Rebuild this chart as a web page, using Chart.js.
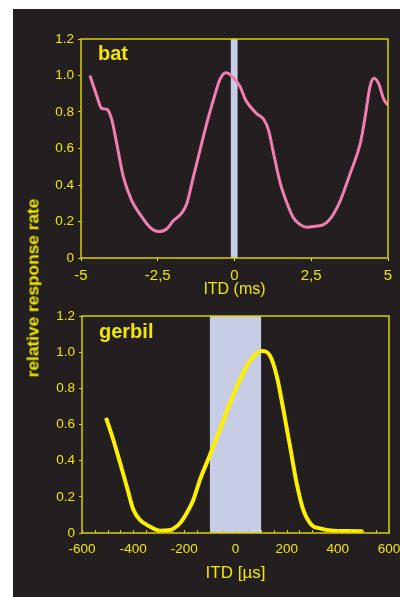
<!DOCTYPE html>
<html>
<head>
<meta charset="utf-8">
<script src="https://cdn.jsdelivr.net/npm/chart.js@4"></script>
<style>
  html,body{margin:0;padding:0;background:#fff;}
  body{width:400px;height:597px;position:relative;overflow:hidden;font-family:"Liberation Sans",Arial,sans-serif;}
  #panel{position:absolute;left:13px;top:9px;width:387px;height:588px;background:#231f20;}
  .box{position:absolute;}
  .lab{position:absolute;color:#f2e600;font-weight:bold;font-size:20px;line-height:20px;white-space:nowrap;}
  #ytitle{position:absolute;color:#f2e600;font-weight:bold;font-size:17.3px;line-height:17px;white-space:nowrap;
          left:33px;top:288px;transform:translate(-50%,-50%) rotate(-90deg);}
</style>
</head>
<body>
<div id="panel"></div>
<div class="box" style="left:13px;top:9px;width:387px;height:291px;"><canvas id="bat"></canvas></div>
<div class="box" style="left:13px;top:300px;width:387px;height:297px;"><canvas id="gerbil"></canvas></div>
<div class="lab" style="left:98px;top:43px;">bat</div>
<div class="lab" style="left:99px;top:321px;">gerbil</div>
<div id="ytitle">relative response rate</div>
<script>
// ---- data ----
const batX = [-4.71,-4.49,-4.33,-4.16,-4.0,-3.84,-3.62,-3.35,-3.08,-2.75,-2.48,-2.21,-1.99,-1.72,-1.55,-1.34,-1.12,-0.9,-0.68,-0.47,-0.28,-0.14,0.02,0.18,0.35,0.51,0.73,0.95,1.11,1.27,1.49,1.71,1.92,2.14,2.36,2.63,2.9,3.07,3.23,3.45,3.77,4.1,4.26,4.42,4.55,4.7,4.86,5.0];
const batY = [1.0,0.89,0.82,0.815,0.76,0.63,0.445,0.316,0.24,0.168,0.145,0.159,0.205,0.246,0.3,0.445,0.593,0.741,0.87,0.98,1.015,1.005,0.975,0.94,0.87,0.83,0.79,0.76,0.70,0.575,0.41,0.30,0.22,0.183,0.168,0.174,0.183,0.205,0.242,0.316,0.464,0.63,0.778,0.945,0.985,0.954,0.87,0.837];
const batBand = [-0.12, 0.1];
const batXTicks = [-5, -2.5, 0, 2.5, 5];

const gerbilX = [-506,-478,-451,-425,-399,-373,-334,-295,-256,-217,-191,-165,-139,-102,-61,-21,18,57,102,135,161,187,213,239,265,298,330,382,448,497];
const gerbilY = [0.637,0.517,0.387,0.257,0.128,0.072,0.035,0.013,0.017,0.054,0.109,0.183,0.294,0.424,0.572,0.72,0.85,0.952,1.007,0.98,0.869,0.683,0.48,0.276,0.128,0.044,0.026,0.013,0.011,0.01];
const gerbilBand = [-100, 100];
const yTicks = [0, 0.2, 0.4, 0.6, 0.8, 1.0, 1.2];

// ---- style ----
const YEL = '#f2e600';
const FRAME = '#dccf00';
const BAND = '#c8cde6';

const bandPlugin = {
  id: 'band',
  beforeDatasetsDraw(chart, args, opts) {
    const {ctx, chartArea: a, scales: {x}} = chart;
    const x0 = x.getPixelForValue(opts.range[0]);
    const x1 = x.getPixelForValue(opts.range[1]);
    ctx.save();
    ctx.fillStyle = BAND;
    ctx.fillRect(x0, a.top, x1 - x0, a.bottom - a.top);
    ctx.restore();
  }
};
const framePlugin = {
  id: 'frame',
  afterDraw(chart, args, opts) {
    const {ctx, chartArea: a, scales: {x}} = chart;
    ctx.save();
    ctx.strokeStyle = FRAME;
    ctx.lineWidth = 1.5;
    ctx.strokeRect(a.left, a.top, a.right - a.left, a.bottom - a.top);
    if (opts.inward) {
      ctx.lineWidth = 1;
      x.ticks.forEach(t => {
        const px = Math.round(x.getPixelForValue(t.value)) + 0.5;
        ctx.beginPath();
        ctx.moveTo(px, a.bottom);
        ctx.lineTo(px, a.bottom - 3);
        ctx.stroke();
      });
    }
    ctx.restore();
  }
};

function yScale(width) {
  return {
    min: 0, max: 1.2,
    afterBuildTicks: s => { s.ticks = yTicks.map(v => ({value: v})); },
    afterFit: s => { s.width = width; s.paddingTop = 0; s.paddingBottom = 0; },
    border: {display: false},
    grid: {drawOnChartArea: false, drawTicks: true, tickLength: 3, color: FRAME, lineWidth: 1},
    ticks: {
      color: YEL, padding: 4,
      font: {family: '"Liberation Sans", Arial, sans-serif', size: 13.5},
      callback: v => v === 0 ? '0' : v.toFixed(1)
    }
  };
}

function makeChart(id, xs, ys, color, lw, cfg) {
  return new Chart(document.getElementById(id), {
    type: 'line',
    data: {
      datasets: [{
        data: xs.map((x, i) => ({x, y: ys[i]})),
        borderColor: color, borderWidth: lw,
        pointRadius: 0, fill: false,
        cubicInterpolationMode: 'monotone'
      }]
    },
    options: {
      responsive: true, maintainAspectRatio: false, animation: false,
      layout: {padding: cfg.padding},
      plugins: {legend: {display: false}, tooltip: {enabled: false},
                band: {range: cfg.band}, frame: {inward: cfg.inward}},
      scales: {
        x: cfg.x,
        y: yScale(cfg.yWidth)
      }
    },
    plugins: [bandPlugin, framePlugin]
  });
}

makeChart('bat', batX, batY, '#f07eae', 3, {
  padding: {top: 30, right: 12, left: 0, bottom: 0},
  band: batBand, inward: false, yWidth: 68,
  x: {
    type: 'linear', min: -5, max: 5,
    afterBuildTicks: s => { s.ticks = batXTicks.map(v => ({value: v})); },
    afterFit: s => { s.height = 42; s.paddingLeft = 0; s.paddingRight = 0; },
    border: {display: false},
    grid: {drawOnChartArea: false, drawTicks: true, tickLength: 3, color: '#e8e090', lineWidth: 1},
    ticks: {
      color: YEL, padding: 6, maxRotation: 0, autoSkip: false,
      font: {family: '"Liberation Sans", Arial, sans-serif', size: 15},
      callback: v => String(v).replace('.', ',')
    },
    title: {display: true, text: 'ITD (ms)', color: YEL, padding: {top: 0, bottom: 1},
            font: {family: '"Liberation Sans", Arial, sans-serif', size: 16}}
  }
});

makeChart('gerbil', gerbilX, gerbilY, '#ffef00', 4, {
  padding: {top: 16, right: 11, left: 0, bottom: 0},
  band: gerbilBand, inward: true, yWidth: 69,
  x: {
    type: 'linear', min: -600, max: 600,
    ticks: {
      stepSize: 50, color: YEL, padding: 8, maxRotation: 0, autoSkip: false,
      font: {family: '"Liberation Sans", Arial, sans-serif', size: 13.5},
      callback: v => (v % 200 === 0) ? String(v) : ''
    },
    afterFit: s => { s.height = 64; s.paddingLeft = 0; s.paddingRight = 0; },
    border: {display: false},
    grid: {drawOnChartArea: false, drawTicks: false},
    title: {display: true, text: 'ITD [µs]', color: YEL, padding: {top: 0, bottom: 13},
            font: {family: '"Liberation Sans", Arial, sans-serif', size: 17}}
  }
});
</script>
</body>
</html>
